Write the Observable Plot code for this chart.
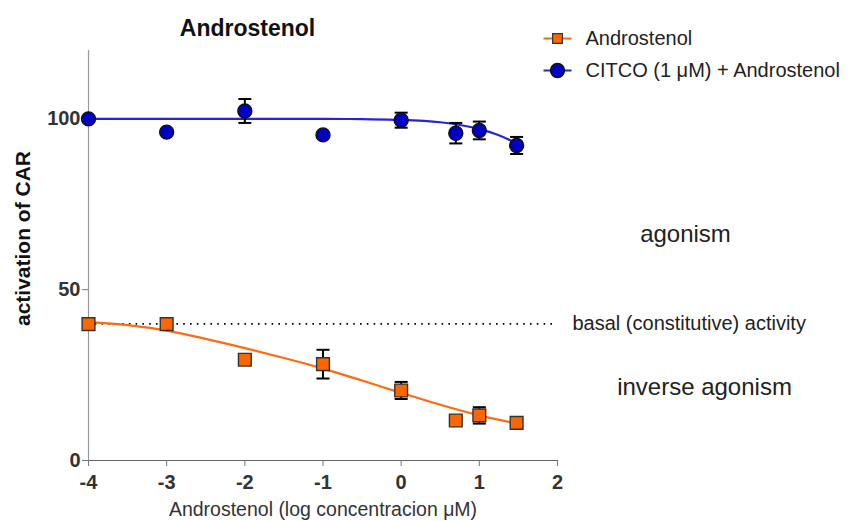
<!DOCTYPE html>
<html>
<head>
<meta charset="utf-8">
<script src="https://cdn.jsdelivr.net/npm/d3@7"></script>
<script src="https://cdn.jsdelivr.net/npm/@observablehq/plot@0.6"></script>
<style>
  html, body { margin: 0; padding: 0; background: #fff; }
  #chart svg { display: block; }
</style>
</head>
<body>
<div id="chart"></div>
<script>
// ---- data ----
const logConc        = [-4, -3, -2, -1, 0, 0.699, 1, 1.477];
const androstenol    = [39.9, 39.9, 29.5, 28.2, 20.5, 11.7, 13.2, 11.0];
const androstenolErr = [0, 0, 0, 4.2, 2.5, 0, 2.4, 0];
const citco          = [100, 96.1, 102.3, 95.3, 99.6, 95.8, 96.6, 92.2];
const citcoErr       = [0, 0, 3.5, 0, 2.2, 3.0, 2.6, 2.5];

// fitted curves
const fitAndroX = [-4, -3.5, -3, -2.5, -2, -1.5, -1, -0.5, 0, 0.5, 1, 1.477];
const fitAndroY = [40.5, 39.6, 38.0, 35.6, 32.9, 30.0, 26.9, 23.4, 19.8, 16.3, 13.2, 10.8];
const fitCitcoX = [-4, -3, -2, -1, -0.5, 0, 0.5, 0.75, 1, 1.25, 1.477];
const fitCitcoY = [100, 100, 100, 100, 99.9, 99.7, 99.0, 98.2, 97.0, 95.2, 92.8];

const basal = 40;
const xTicks = [-4, -3, -2, -1, 0, 1, 2];
const yTicks = [0, 50, 100];

const seriesNames = ["Androstenol", "CITCO (1 \u03BCM) + Androstenol"];
const titleText = "Androstenol";
const xLabel = "Androstenol (log concentracion \u03BCM)";
const yLabel = "activation of CAR";
const annBasal = "basal (constitutive) activity";
const annAgonism = "agonism";
const annInverse = "inverse agonism";

// ---- build tables ----
const andro = logConc.map((x, i) => ({x, y: androstenol[i], e: androstenolErr[i]}));
const cit = logConc.map((x, i) => ({x, y: citco[i], e: citcoErr[i]}));
const fitA = fitAndroX.map((x, i) => ({x, y: fitAndroY[i]}));
const fitC = fitCitcoX.map((x, i) => ({x, y: fitCitcoY[i]}));
const errs = [...andro, ...cit].filter(d => d.e > 0);

const ORANGE = "#ff6600";
const ORANGE_LINE = "#ff6a10";
const BLUE = "#0000c4";
const BLUE_LINE = "#2525d2";
const FONT = "'Liberation Sans', Arial, sans-serif";

// custom horizontal-line symbol (for error-bar caps and legend swatches)
const hline = {draw(ctx, size) { const w = Math.sqrt(size / Math.PI); ctx.moveTo(-w, 0); ctx.lineTo(w, 0); }};

const chart = Plot.plot({
  width: 850,
  height: 521,
  marginLeft: 88,
  marginRight: 293,
  marginTop: 50,
  marginBottom: 61,
  style: {fontFamily: FONT, background: "#fff", overflow: "visible"},
  x: {domain: [-4, 2]},
  y: {domain: [0, 120]},
  marks: [
    Plot.frame({anchor: "left", stroke: "#999", strokeWidth: 1.2}),
    Plot.frame({anchor: "bottom", stroke: "#666", strokeWidth: 1.2}),
    Plot.axisY({ticks: yTicks, tickSize: 6, tickPadding: 2, fontSize: 20, fontWeight: "bold",
                fill: "#333", stroke: "#777", label: null, tickFormat: d => String(d)}),
    Plot.axisX({ticks: xTicks, tickSize: 6, tickPadding: 8, fontSize: 20, fontWeight: "bold",
                fill: "#333", stroke: "#777", label: null, tickFormat: d => String(d)}),
    // basal dotted line
    Plot.ruleY([basal], {x1: -4, x2: 2, stroke: "#000", strokeWidth: 1.6, strokeDasharray: "1.6,5.2"}),
    // fitted curves
    Plot.line(fitC, {x: "x", y: "y", curve: "monotone-x", stroke: BLUE_LINE, strokeWidth: 2.2}),
    Plot.line(fitA, {x: "x", y: "y", curve: "monotone-x", stroke: ORANGE_LINE, strokeWidth: 2.2}),
    // error bars
    Plot.ruleX(errs, {x: "x", y1: d => d.y - d.e, y2: d => d.y + d.e, stroke: "#000", strokeWidth: 2}),
    Plot.dot(errs, {x: "x", y: d => d.y + d.e, symbol: hline, r: 6.5, stroke: "#000", strokeWidth: 2}),
    Plot.dot(errs, {x: "x", y: d => d.y - d.e, symbol: hline, r: 6.5, stroke: "#000", strokeWidth: 2}),
    // points
    Plot.dot(cit, {x: "x", y: "y", symbol: "circle", r: 7, fill: BLUE, stroke: "#111", strokeWidth: 1.4}),
    Plot.dot(andro, {x: "x", y: "y", symbol: "square", r: 7.2, fill: ORANGE, stroke: "#333", strokeWidth: 1.4}),
    // title
    Plot.text([titleText], {frameAnchor: "top-left", dx: 159, dy: -22, text: d => d, fontSize: 23,
                fontWeight: "bold", fill: "#111", textAnchor: "middle", lineAnchor: "middle"}),
    // y label
    Plot.text([yLabel], {frameAnchor: "left", dx: -65, dy: -17, text: d => d, rotate: -90, fontSize: 21,
                fontWeight: "bold", fill: "#111", textAnchor: "middle", lineAnchor: "middle"}),
    // x label
    Plot.text([xLabel], {frameAnchor: "bottom", dy: 49, text: d => d, fontSize: 19.5,
                fill: "#333", textAnchor: "middle", lineAnchor: "middle"}),
    // annotations
    Plot.text([basal], {y: d => d, frameAnchor: "right", dx: 15, text: () => annBasal, fontSize: 20,
                fill: "#222", textAnchor: "start", lineAnchor: "middle"}),
    Plot.text([annAgonism], {frameAnchor: "top-right", dx: 128, dy: 184, text: d => d, fontSize: 24,
                fill: "#222", textAnchor: "middle", lineAnchor: "middle"}),
    Plot.text([annInverse], {frameAnchor: "top-right", dx: 147, dy: 337, text: d => d, fontSize: 24,
                fill: "#222", textAnchor: "middle", lineAnchor: "middle"}),
    // legend
    Plot.dot([0], {frameAnchor: "top-right", dx: 0, dy: -12, symbol: hline, r: 14, stroke: ORANGE_LINE, strokeWidth: 2}),
    Plot.dot([0], {frameAnchor: "top-right", dx: 0, dy: -12, symbol: "square", r: 5.5, fill: ORANGE, stroke: "#333", strokeWidth: 1.2}),
    Plot.dot([0], {frameAnchor: "top-right", dx: 0, dy: 20, symbol: hline, r: 14, stroke: BLUE_LINE, strokeWidth: 2}),
    Plot.dot([0], {frameAnchor: "top-right", dx: 0, dy: 20, symbol: "circle", r: 7, fill: BLUE, stroke: "#111", strokeWidth: 1.4}),
    Plot.text([seriesNames[0]], {frameAnchor: "top-right", dx: 28, dy: -12, text: d => d, fontSize: 20,
                fill: "#222", textAnchor: "start", lineAnchor: "middle"}),
    Plot.text([seriesNames[1]], {frameAnchor: "top-right", dx: 28, dy: 20, text: d => d, fontSize: 20,
                fill: "#222", textAnchor: "start", lineAnchor: "middle"})
  ]
});
document.getElementById("chart").appendChild(chart);
</script>
</body>
</html>
